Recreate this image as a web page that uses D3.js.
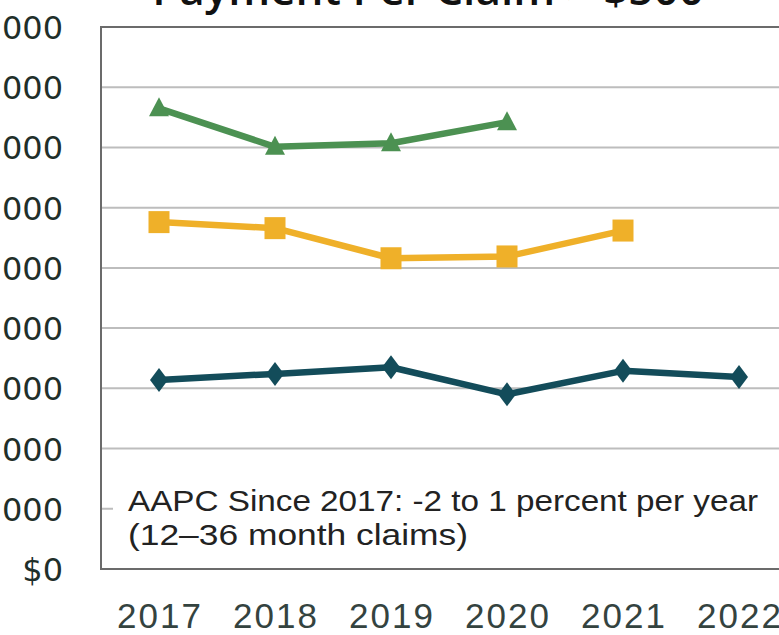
<!DOCTYPE html>
<html><head><meta charset="utf-8">
<script src="https://cdn.jsdelivr.net/npm/d3@7"></script>
<style>body{margin:0;background:#fff;overflow:hidden}svg{display:block}</style>
</head><body>
<svg id="c" width="779" height="635"></svg>
<script>
const years = ["2017","2018","2019","2020","2021","2022"];
const yTicks = [0,1000,2000,3000,4000,5000,6000,7000,8000,9000];
const greenVals = [7650, 7010, 7070, 7420, null, null];
const yellowVals = [5760, 5660, 5160, 5190, 5620, null];
const tealVals = [3140, 3240, 3350, 2900, 3290, 3190];
const title = "Payment Per Claim > $500";
const note1 = "AAPC Since 2017: -2 to 1 percent per year";
const note2 = "(12\u201336 month claims)";

const svg = d3.select("#c");
const pLeft = 101, pTop = 27, pBottom = 569, step = 116;
const x = d3.scaleBand().domain(years).range([pLeft, pLeft + step*years.length]).padding(0);
const y = d3.scaleLinear().domain([0, 9000]).range([pBottom, pTop]);

// gridlines
svg.append("g").selectAll("line").data(yTicks.slice(1)).join("line")
  .attr("x1", pLeft).attr("x2", 800).attr("y1", d=>y(d)).attr("y2", d=>y(d))
  .attr("stroke", "#bdbdbd").attr("stroke-width", 2);

// annotation box (white background)
svg.append("rect").attr("x", 113).attr("y", 484).attr("width", 700).attr("height", 76).attr("fill", "#fff");

// frame
svg.append("rect").attr("x", pLeft).attr("y", pTop).attr("width", 800).attr("height", pBottom-pTop)
  .attr("fill","none").attr("stroke","#6b6b6b").attr("stroke-width",2);

// y axis labels
const yAxis = d3.axisLeft(y).tickValues(yTicks).tickSize(0).tickPadding(0)
  .tickFormat(d => d === 0 ? "$0" : d3.format("$,")(d));
const ya = svg.append("g").attr("transform", "translate(63,0)").call(yAxis);
ya.select(".domain").remove();
ya.selectAll("text").attr("font-family","'DejaVu Sans', sans-serif").attr("font-size", 32)
  .attr("fill","#1f2f2a").attr("dy","0.36em");

// x axis labels
const xAxis = d3.axisBottom(x).tickSize(0).tickPadding(0);
const xa = svg.append("g").attr("transform", "translate(0,628)").call(xAxis);
xa.select(".domain").remove();
xa.selectAll("text").attr("font-family","'Liberation Sans', Arial, sans-serif").attr("font-size", 35)
  .attr("letter-spacing", "2px").attr("dx", "1px").attr("fill","#34433f").attr("dy", 0);

// title
svg.append("text").attr("x", 428).attr("y", 5).attr("text-anchor","middle")
  .attr("font-family","'Open Sans', sans-serif").attr("font-weight", 600).attr("font-size", 44)
  .attr("fill","#111").text(title);

// note
svg.append("text").attr("x", 128).attr("y", 511).attr("font-family","'Liberation Sans', sans-serif")
  .attr("font-size", 29).attr("fill","#222").attr("textLength", 630).attr("lengthAdjust","spacingAndGlyphs").text(note1);
svg.append("text").attr("x", 128).attr("y", 545).attr("font-family","'Liberation Sans', sans-serif")
  .attr("font-size", 29).attr("fill","#222").attr("textLength", 340).attr("lengthAdjust","spacingAndGlyphs").text(note2);

const cx = d => x(d) + x.bandwidth()/2;
const line = d3.line().defined(d => d.v != null).x(d => cx(d.yr)).y(d => y(d.v));
const series = [
  {vals: greenVals, color: "#4c9152", shape: "tri"},
  {vals: yellowVals, color: "#efb029", shape: "sq"},
  {vals: tealVals, color: "#134c5a", shape: "dia"}
];
series.forEach(s => {
  const data = years.map((yr,i) => ({yr, v: s.vals[i]}));
  svg.append("path").datum(data).attr("d", line).attr("fill","none")
    .attr("stroke", s.color).attr("stroke-width", 6.5).attr("stroke-linejoin","round");
  const pts = data.filter(d => d.v != null);
  const g = svg.append("g").attr("fill", s.color);
  pts.forEach(d => {
    const px = cx(d.yr), py = y(d.v);
    if (s.shape === "tri") {
      g.append("path").attr("d", `M${px},${py-11}L${px+10},${py+8}L${px-10},${py+8}Z`);
    } else if (s.shape === "sq") {
      g.append("rect").attr("x", px-10.5).attr("y", py-11).attr("width", 21).attr("height", 22);
    } else {
      g.append("path").attr("d", `M${px},${py-12}L${px+9},${py}L${px},${py+12}L${px-9},${py}Z`);
    }
  });
});
</script>
</body></html>
